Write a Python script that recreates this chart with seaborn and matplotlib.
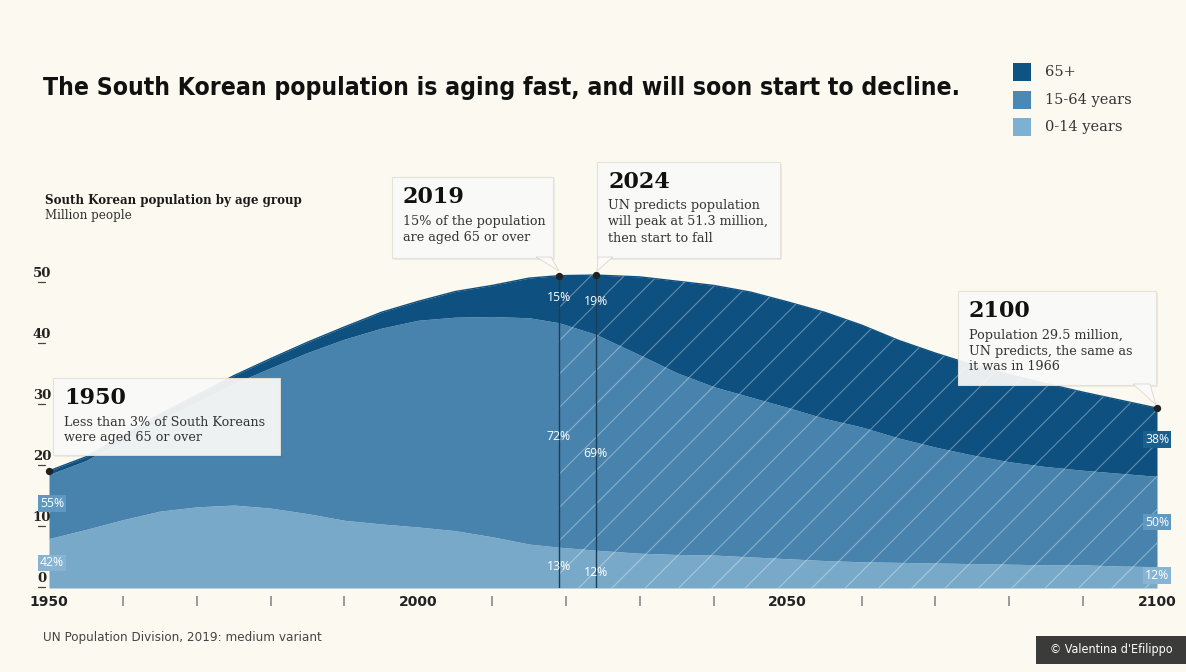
import matplotlib
matplotlib.use("Agg")
import numpy as np
import pandas as pd
import seaborn as sns
import matplotlib.pyplot as plt
from matplotlib.patches import Rectangle, Polygon
from matplotlib import font_manager as fm
from matplotlib.transforms import blended_transform_factory

# ---------------- data (million people, UN WPP 2019 medium variant) ----------------
years = [1950, 1955, 1960, 1965, 1970, 1975, 1980, 1985, 1990, 1995, 2000, 2005,
         2010, 2015, 2019, 2024, 2030, 2035, 2040, 2045, 2050, 2055, 2060, 2065,
         2070, 2075, 2080, 2085, 2090, 2095, 2100]
pop_0_14 = [8.1, 9.6, 11.2, 12.6, 13.3, 13.6, 13.1, 12.2, 11.1, 10.5, 10.0, 9.4,
            8.4, 7.2, 6.7, 6.2, 5.7, 5.5, 5.4, 5.1, 4.8, 4.5, 4.3, 4.2,
            4.1, 4.0, 3.9, 3.8, 3.8, 3.6, 3.5]
pop_15_64 = [10.5, 11.3, 13.0, 15.0, 17.2, 19.9, 23.0, 26.4, 29.7, 32.1, 33.9, 35.0,
             36.1, 37.1, 36.8, 35.4, 32.5, 29.8, 27.6, 26.2, 24.8, 23.3, 22.1, 20.4,
             19.0, 17.8, 16.8, 16.1, 15.5, 15.2, 14.8]
pop_65_plus = [0.6, 0.6, 0.8, 0.9, 1.1, 1.3, 1.5, 1.7, 2.0, 2.6, 3.1, 4.2,
               5.1, 6.5, 7.7, 9.7, 12.8, 15.0, 16.6, 17.2, 17.3, 17.4, 16.7, 16.0,
               15.4, 14.8, 14.3, 13.6, 12.8, 12.0, 11.2]

groups = ["65+", "15-64 years", "0-14 years"]
x_major = [1950, 2000, 2050, 2100]
x_minor = [1960, 1970, 1980, 1990, 2010, 2020, 2030, 2040, 2060, 2070, 2080, 2090]
y_ticks = [0, 10, 20, 30, 40, 50]

highlight_years = [1950, 2019, 2024, 2100]
# percentage labels: (year, y position, text, group)
pct_labels = [
    (1950, 13.9, "55%", "15-64 years"), (1950, 4.1, "42%", "0-14 years"),
    (2019, 47.7, "15%", None), (2019, 24.9, "72%", None), (2019, 3.6, "13%", None),
    (2024, 47.0, "19%", None), (2024, 22.0, "69%", None), (2024, 2.5, "12%", None),
    (2100, 24.3, "38%", "65+"), (2100, 10.8, "50%", "15-64 years"), (2100, 2.1, "12%", "0-14 years"),
]

df = pd.DataFrame({"year": years, "0-14 years": pop_0_14,
                   "15-64 years": pop_15_64, "65+": pop_65_plus})
df["total"] = df["0-14 years"] + df["15-64 years"] + df["65+"]

# ---------------- style ----------------
BG = "#fcfaf0"
C65 = "#0e5080"
C1564 = "#4883ad"
C014 = "#79a9c9"
legend_colors = {"65+": "#0d5384", "15-64 years": "#4a88b5", "0-14 years": "#7cb1d3"}
label_bg = {"65+": "#1b5f8e", "15-64 years": "#5f98c0", "0-14 years": "#86b4d2"}

sns.set_theme(style="white")
plt.rcParams["hatch.linewidth"] = 0.8
ttf = fm.fontManager.ttflist
avail = {f.name for f in ttf}
if "Liberation Sans Narrow" in avail:
    NARROW, NSTRETCH = "Liberation Sans Narrow", "normal"
elif any(f.name == "DejaVu Sans" and f.stretch == "condensed" for f in ttf):
    NARROW, NSTRETCH = "DejaVu Sans", "condensed"
else:
    NARROW, NSTRETCH = "Liberation Sans", "normal"
SERIF = "DejaVu Serif"
SANS = "DejaVu Sans"
plt.rcParams["font.family"] = [SANS]

W, H = 1186, 672
fig = plt.figure(figsize=(W / 100, H / 100), dpi=100, facecolor=BG)
ax = fig.add_axes([49 / W, 1 - 588 / H, (1157 - 49) / W, 335.5 / H])
ax.set_facecolor(BG)
ax.set_xlim(1950, 2100)
ax.set_ylim(0, 55)
for s in ax.spines.values():
    s.set_visible(False)

def fx(px):
    return px / W

def fy(py):
    return 1 - py / H

# stacked areas
ax.stackplot(df["year"], df["0-14 years"], df["15-64 years"], df["65+"],
             colors=[C014, C1564, C65], linewidth=0, zorder=1)
sns.lineplot(data=df, x="year", y="total", color=C65, lw=1.0, ax=ax, legend=False, zorder=2)
ax.set_xlabel("")
ax.set_ylabel("")

# projection hatch
proj = df[df["year"] >= 2019]
ax.fill_between(proj["year"], 0, proj["total"], facecolor="none",
                edgecolor=(1, 1, 1, 0.35), hatch="/", linewidth=0, zorder=2)

# vertical markers and dots
tot = dict(zip(df["year"], df["total"]))
ax.vlines([2019, 2024], 0, [tot[2019], tot[2024]], color="#1c3d56", lw=1.0, zorder=3)
ax.scatter(highlight_years, [tot[y] for y in highlight_years], s=28, color="#222222",
           zorder=6, clip_on=False, linewidths=0)

# percent labels
for yr, yv, txt, g in pct_labels:
    kw = {}
    if g is not None:
        kw["bbox"] = dict(boxstyle="square,pad=0.15", fc=label_bg[g], ec="none")
    xx = yr + 0.4 if yr == 1950 else yr
    ax.text(xx, yv, txt, ha="center", va="center", color="white", fontsize=8.8,
            family="Open Sans", zorder=7, clip_on=False, **kw)

# x axis
ax.set_xticks(x_major)
ax.set_xticklabels([str(v) for v in x_major], fontsize=10, fontweight="bold", color="#222222")
ax.tick_params(axis="x", length=0, pad=5)
ax.set_yticks([])
xt = ax.get_xaxis_transform()
ax.vlines(x_minor, -0.025, -0.055, transform=xt, color="#8a8a8a", lw=1.2, clip_on=False)

# y labels with underline
yt = blended_transform_factory(ax.transAxes, ax.transData)
for v in y_ticks:
    ax.text(-7 / 1108, v + 0.45, str(v), transform=yt, ha="center", va="bottom",
            fontsize=9.5, fontweight="bold", family=SERIF, color="#222222", clip_on=False)
    ax.plot([-11 / 1108, -4 / 1108], [v + 0.1, v + 0.1], transform=yt, color="#444444", lw=0.9,
            clip_on=False)

# ---------------- title & texts ----------------
title = fig.text(fx(43), fy(88), "The South Korean population is aging fast, and will soon start to decline.",
                 ha="left", va="center", fontsize=20, fontweight="bold", family=NARROW,
                 fontstretch=NSTRETCH, color="#111111")
fig.canvas.draw()
r = fig.canvas.get_renderer()
w = title.get_window_extent(r).width
title.set_fontsize(20 * 915 / w)

fig.text(fx(45), fy(200), "South Korean population by age group", ha="left", va="center",
         fontsize=8.6, fontweight="bold", family=SERIF, color="#1a1a1a")
fig.text(fx(45), fy(215), "Million people", ha="left", va="center",
         fontsize=8.6, family=SERIF, color="#333333")

foot = fig.text(fx(43), fy(638), "UN Population Division, 2019: medium variant", ha="left",
                va="center", fontsize=9, family=NARROW, fontstretch=NSTRETCH, color="#444444")
fig.canvas.draw()
w = foot.get_window_extent(r).width
foot.set_fontsize(9 * 280 / w)

fig.patches.append(Rectangle((fx(1036), fy(664)), 150 / W, 28 / H, transform=fig.transFigure,
                             facecolor="#3b3b39", edgecolor="none", zorder=5))
fig.text(fx(1111), fy(650), "\u00a9 Valentina d'Efilippo", ha="center", va="center",
         fontsize=9, family=NARROW, fontstretch=NSTRETCH, color="white", zorder=6)

# legend
leg_y = [72, 100, 127]
for g, yy in zip(groups, leg_y):
    fig.patches.append(Rectangle((fx(1013), fy(yy + 9)), 18 / W, 18 / H, transform=fig.transFigure,
                                 facecolor=legend_colors[g], edgecolor="none", zorder=5))
    fig.text(fx(1045), fy(yy), g, ha="left", va="center", fontsize=10.5, family=SERIF,
             color="#333333", zorder=6)

# annotation boxes
boxes = [
    ((53, 378, 280, 455), "1950", ["Less than 3% of South Koreans", "were aged 65 or over"], None),
    ((392, 177, 553, 258), "2019", ["15% of the population", "are aged 65 or over"],
     [(536, 257), (551, 257), (559, 271)]),
    ((597, 162, 780, 258), "2024", ["UN predicts population", "will peak at 51.3 million,",
                                    "then start to fall"],
     [(598, 257), (613, 257), (597, 271)]),
    ((958, 291, 1156, 385), "2100", ["Population 29.5 million,", "UN predicts, the same as",
                                     "it was in 1966"],
     [(1133, 384), (1150, 384), (1156, 405)]),
]
for (x0, y0, x1, y1), head, lines, tail in boxes:
    fig.patches.append(Rectangle((fx(x0 + 2), fy(y1 + 2)), (x1 - x0) / W, (y1 - y0) / H,
                                 transform=fig.transFigure, facecolor="#000000", alpha=0.06,
                                 edgecolor="none", zorder=8))
    fig.patches.append(Rectangle((fx(x0), fy(y1)), (x1 - x0) / W, (y1 - y0) / H,
                                 transform=fig.transFigure, facecolor="#fbfbf9", alpha=0.93,
                                 edgecolor="#e4e1d8", lw=0.8, zorder=9))
    if tail is not None:
        fig.patches.append(Polygon([(fx(a), fy(b)) for a, b in tail], closed=True,
                                   transform=fig.transFigure, facecolor="#fbfbf9", alpha=0.93,
                                   edgecolor="#d8d5cc", lw=0.6, zorder=9))
    fig.text(fx(x0 + 11), fy(y0 + 20), head, ha="left", va="center", fontsize=16,
             fontweight="bold", family=SERIF, color="#111111", zorder=10)
    for i, ln in enumerate(lines):
        fig.text(fx(x0 + 11), fy(y0 + 44 + 16 * i), ln, ha="left", va="center", fontsize=9.2,
                 family=SERIF, color="#333333", zorder=10)

fig.savefig("out.png", dpi=100, facecolor=BG)
